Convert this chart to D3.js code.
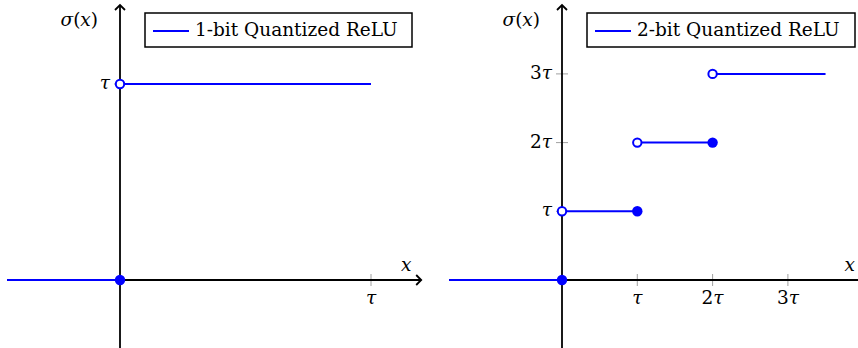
<!DOCTYPE html>
<html>
<head>
<meta charset="utf-8">
<script src="https://cdn.jsdelivr.net/npm/d3@7"></script>
<style>
body { margin: 0; background: white; }
svg { display: block; }
text { font-family: 'DejaVu Serif', serif; fill: black; }
</style>
</head>
<body>
<div id="chart"></div>
<script>
// step levels of each quantized relu, in units of tau
const oneBitSegments = [
    { x0: -0.45, x1: 0, y: 0 },
    { x0: 0, x1: 1, y: 1 }
]
const oneBitOpen = [[0, 1]]
const oneBitClosed = [[0, 0]]
const oneBitTicks = [1]
const oneBitTickLabels = ['τ']

const twoBitSegments = [
    { x0: -1.5, x1: 0, y: 0 },
    { x0: 0, x1: 1, y: 1 },
    { x0: 1, x1: 2, y: 2 },
    { x0: 2, x1: 3.5, y: 3 }
]
const twoBitOpen = [[0, 1], [1, 2], [2, 3]]
const twoBitClosed = [[0, 0], [1, 1], [2, 2]]
const twoBitTicks = [1, 2, 3]
const twoBitTickLabels = ['τ', '2τ', '3τ']

const legendLabels = ['1-bit Quantized ReLU', '2-bit Quantized ReLU']

let fontSize = 18.5

let svg = d3.select('#chart').append('svg')
    .attr('width', 858)
    .attr('height', 348)

function drawPanel(opts) {
    let x = d3.scaleLinear()
        .domain([0, 1])
        .range([opts.originX, opts.originX + opts.unitX])
    let y = d3.scaleLinear()
        .domain([0, 1])
        .range([280, 280 - opts.unitY])

    let g = svg.append('g')

    // ticks
    g.selectAll('line.xtick')
        .data(opts.ticks)
        .enter()
        .append('line')
            .attr('class', 'xtick')
            .attr('x1', d => x(d))
            .attr('x2', d => x(d))
            .attr('y1', y(0) - 6)
            .attr('y2', y(0) + 6)
            .attr('stroke', '#888')
            .attr('stroke-width', 0.8)
    g.selectAll('line.ytick')
        .data(opts.ticks)
        .enter()
        .append('line')
            .attr('class', 'ytick')
            .attr('y1', d => y(d))
            .attr('y2', d => y(d))
            .attr('x1', x(0) - 6)
            .attr('x2', x(0) + 6)
            .attr('stroke', '#888')
            .attr('stroke-width', 0.8)

    // axes
    let xEnd = x(opts.xMax)
    g.append('line')
        .attr('x1', x(opts.xMin))
        .attr('x2', xEnd)
        .attr('y1', y(0))
        .attr('y2', y(0))
        .attr('stroke', 'black')
        .attr('stroke-width', 1.8)
    g.append('path')
        .attr('d', `M${xEnd - 5},${y(0) - 5} L${xEnd},${y(0)} L${xEnd - 5},${y(0) + 5}`)
        .attr('fill', 'none')
        .attr('stroke', 'black')
        .attr('stroke-width', 1.8)
    g.append('line')
        .attr('x1', x(0))
        .attr('x2', x(0))
        .attr('y1', 350)
        .attr('y2', 5)
        .attr('stroke', 'black')
        .attr('stroke-width', 1.8)
    g.append('path')
        .attr('d', `M${x(0) - 5},${10} L${x(0)},${5} L${x(0) + 5},${10}`)
        .attr('fill', 'none')
        .attr('stroke', 'black')
        .attr('stroke-width', 1.8)

    // tick labels
    g.selectAll('text.xlabel')
        .data(opts.ticks)
        .enter()
        .append('text')
            .attr('class', 'xlabel')
            .attr('x', d => x(d))
            .attr('y', y(0) + 19)
            .attr('text-anchor', 'middle')
            .attr('dominant-baseline', 'middle')
            .attr('font-size', fontSize)
            .html((d, i) => tauLabel(opts.tickLabels[i]))
    g.selectAll('text.ylabel')
        .data(opts.ticks)
        .enter()
        .append('text')
            .attr('class', 'ylabel')
            .attr('x', x(0) - 10)
            .attr('y', d => y(d))
            .attr('text-anchor', 'end')
            .attr('dominant-baseline', 'middle')
            .attr('font-size', fontSize)
            .html((d, i) => tauLabel(opts.tickLabels[i]))

    g.append('text')
        .attr('x', x(0) - 22)
        .attr('y', 21)
        .attr('text-anchor', 'end')
        .attr('dominant-baseline', 'middle')
        .attr('font-size', fontSize)
        .html('<tspan font-style="italic">σ</tspan>(<tspan font-style="italic">x</tspan>)')
    g.append('text')
        .attr('x', xEnd - 15)
        .attr('y', y(0) - 14)
        .attr('text-anchor', 'middle')
        .attr('dominant-baseline', 'middle')
        .attr('font-size', fontSize)
        .attr('font-style', 'italic')
        .text('x')

    // function
    g.selectAll('line.step')
        .data(opts.segments)
        .enter()
        .append('line')
            .attr('class', 'step')
            .attr('x1', d => x(d.x0))
            .attr('x2', d => x(d.x1))
            .attr('y1', d => y(d.y))
            .attr('y2', d => y(d.y))
            .attr('stroke', 'blue')
            .attr('stroke-width', 2)
    g.selectAll('circle.closed')
        .data(opts.closed)
        .enter()
        .append('circle')
            .attr('class', 'closed')
            .attr('cx', d => x(d[0]))
            .attr('cy', d => y(d[1]))
            .attr('r', 5.2)
            .attr('fill', 'blue')
    g.selectAll('circle.open')
        .data(opts.open)
        .enter()
        .append('circle')
            .attr('class', 'open')
            .attr('cx', d => x(d[0]))
            .attr('cy', d => y(d[1]))
            .attr('r', 4.2)
            .attr('fill', 'white')
            .attr('stroke', 'blue')
            .attr('stroke-width', 2)

    // legend
    let legend = g.append('g')
    legend.append('rect')
        .attr('x', opts.legendX)
        .attr('y', 13)
        .attr('width', opts.legendW)
        .attr('height', 34)
        .attr('fill', 'white')
        .attr('stroke', 'black')
        .attr('stroke-width', 1.5)
    legend.append('line')
        .attr('x1', opts.legendX + 8)
        .attr('x2', opts.legendX + 44)
        .attr('y1', 31)
        .attr('y2', 31)
        .attr('stroke', 'blue')
        .attr('stroke-width', 2)
    legend.append('text')
        .attr('x', opts.legendX + 50)
        .attr('y', 31)
        .attr('dominant-baseline', 'middle')
        .attr('font-size', fontSize)
        .text(opts.legend)
}

function tauLabel(s) {
    return s.replace('τ', '<tspan font-style="italic">τ</tspan>')
}

drawPanel({
    originX: 120, unitX: 251, unitY: 196,
    xMin: -0.45, xMax: 1.2,
    segments: oneBitSegments, open: oneBitOpen, closed: oneBitClosed,
    ticks: oneBitTicks, tickLabels: oneBitTickLabels,
    legend: legendLabels[0], legendX: 145, legendW: 267
})

drawPanel({
    originX: 562, unitX: 75.3, unitY: 68.7,
    xMin: -1.5, xMax: 4.02,
    segments: twoBitSegments, open: twoBitOpen, closed: twoBitClosed,
    ticks: twoBitTicks, tickLabels: twoBitTickLabels,
    legend: legendLabels[1], legendX: 587, legendW: 268
})
</script>
</body>
</html>
